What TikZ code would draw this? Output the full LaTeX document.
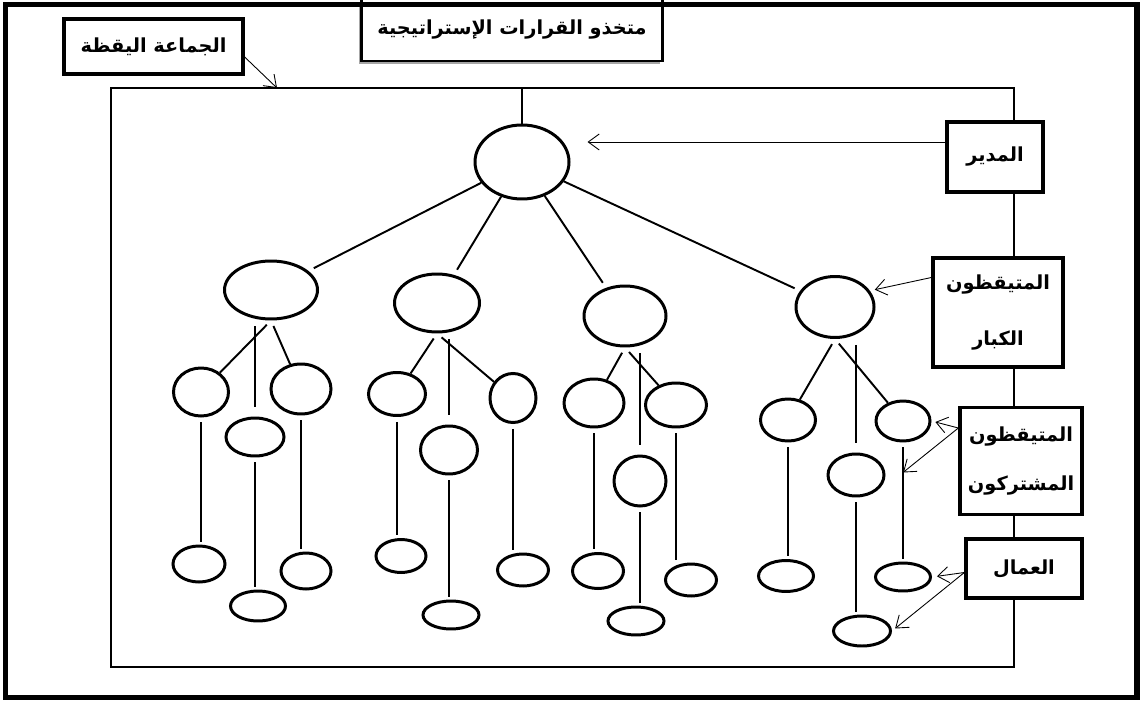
\documentclass[tikz,border=0pt]{standalone}
\usepackage{fontspec}
\newfontfamily\arabicfont[Script=Arabic]{DejaVu Sans}
\TeXXeTstate=1
\usetikzlibrary{shapes.geometric,arrows.meta,shadows,calc}

\tikzset{
  bub/.style={ellipse,draw,line width=1.7pt,inner sep=0pt},
  lbl/.style={draw,fill=white,line width=1.9pt,inner sep=0pt,align=center,
    font=\arabicfont\bfseries\fontsize{11}{13}\selectfont},
  link/.style={line width=1.1pt},
  ptr/.style={->,>={Straight Barb[length=0.22cm,width=0.32cm]},line width=0.5pt},
}

\begin{document}
\begin{tikzpicture}[x=0.02cm,y=-0.02cm]
\useasboundingbox (0,0) rectangle (1142,702);
% the group
\node[draw,line width=1.2pt,inner sep=0pt,minimum width=18.06cm,minimum height=11.58cm] (grp) at (562.5,377.5) {};
% members
\foreach \n/\x/\y/\w/\h in {top/522/162/94/74,
    m1/271/290/93/58, m2/437/303/85/58, m3/625/316/82/60, m4/835/307/78/61,
    a1/201/392/55/48, b1/255/437/58/38, c1/301/389/60/50,
    a2/397/394/57/43, b2/449/450/57/48, c2/513/398/46/49,
    a3/594/403/60/48, b3/640/481/52/50, c3/676/405/61/44,
    a4/788/420/55/42, b4/856/475/56/42, c4/903/421/54/40,
    fa1/199/564/52/36, fb1/258/606/55/30, fc1/306/571/50/36,
    fa2/401/556/50/33, fb2/451/615/56/28, fc2/523/570/51/32,
    fa3/598/571/51/35, fb3/636/621/56/28, fc3/691/580/51/32,
    fa4/786/576/55/31, fb4/862/631/57/30, fc4/903/577/55/28}
  \node[bub,minimum width=\w*0.02cm,minimum height=\h*0.02cm] (\n) at (\x,\y) {};

\coordinate (hook) at (top |- grp.north);
\draw[link] (top) -- (hook);
\foreach \i in {1,...,4} {
  \draw[link,shorten >=0.12cm] (top) -- (m\i);
  \draw[link,shorten <=0.12cm] (m\i.south) -- (a\i);
  \draw[link,shorten <=0.12cm,shorten >=0.2cm] (b\i |- m\i.south) -- (b\i);
  \draw[link,shorten <=0.12cm] (m\i.south) -- (c\i);
  \foreach \k in {a,b,c}
    \draw[link,shorten <=0.1cm,shorten >=0.06cm] (\k\i.south) -- (\k\i.south |- f\k\i.north);
}

% labels
\node[lbl,minimum width=3.58cm,minimum height=1.1cm] (jamaa) at (153.5,46.5) {\beginR الجماعة اليقظة\endR};
\node[lbl,line width=1.2pt,minimum width=6.02cm,minimum height=1.24cm,
  drop shadow={shadow xshift=-0.05cm,shadow yshift=-0.06cm,opacity=0.7}] (qarar) at (512,30) {\beginR متخذو القرارات الإستراتيجية\endR};
\node[lbl,minimum width=1.92cm,minimum height=1.4cm] (mudir) at (995,157) {\beginR المدير\endR};
\node[lbl,minimum width=2.6cm,minimum height=2.18cm] (kibar) at (998,312.5) {\beginR المتيقظون\endR\\[1.7em]\beginR الكبار\endR};
\node[lbl,minimum width=2.44cm,minimum height=2.14cm] (mush) at (1021,461) {\beginR المتيقظون\endR\\[1.4em]\beginR المشتركون\endR};
\node[lbl,minimum width=2.32cm,minimum height=1.18cm] (ummal) at (1024,568.5) {\beginR العمال\endR};

% pointers
\coordinate (gtip) at (277,88);
\coordinate (cline) at ($(c4)!0.33!(fc4)$);
\draw[ptr] ([shift={(0,10.5)}]jamaa.east) -- (gtip);
\draw[ptr] ([shift={(0,-15)}]mudir.west) -- ([shift={(17,-20)}]top.east);
\draw[ptr,shorten >=0.1cm] ([shift={(0,-35)}]kibar.west) -- (m4.25);
\draw[ptr,shorten >=0.08cm] ([shift={(0,-33)}]mush.west) -- (c4.east);
\draw[ptr] ([shift={(0,-33)}]mush.west) -- (cline);
\draw[ptr,shorten >=0.1cm] ([shift={(0,4)}]ummal.west) -- (fc4.east);
\draw[ptr,shorten >=0.08cm] ([shift={(0,4)}]ummal.west) -- (fb4.east);

% outer frame
\draw[line width=3.4pt] (5.5,4.5) rectangle (1136.5,697.5);
\end{tikzpicture}
\end{document}
